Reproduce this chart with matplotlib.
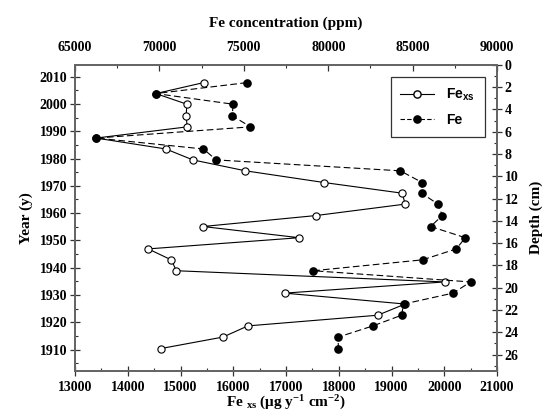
import matplotlib
matplotlib.use("Agg")
import matplotlib.pyplot as plt
from matplotlib.ticker import MultipleLocator
from matplotlib.lines import Line2D

# data (25 sediment layers, top to bottom)
years = [2007.8, 2003.8, 1999.9, 1995.7, 1991.6, 1987.5, 1983.5, 1979.5, 1975.5,
         1971.2, 1967.3, 1963.3, 1959.1, 1955.1, 1951.0, 1946.9, 1942.9, 1938.9,
         1934.8, 1930.7, 1926.7, 1922.6, 1918.7, 1914.6, 1910.4]
fe_xs = [15435, 14531, 15120, 15106, 15125, 13398, 14721, 15233, 16231,
         17725, 19205, 19256, 17560, 15423, 17250, 14385, 14822, 14922,
         20008, 16972, 19256, 18736, 16277, 15803, 14626]
fe_conc = [75178, 69784, 74366, 74307, 75392, 66245, 72606, 73359, 84266,
           85570, 85529, 86501, 86756, 86062, 88119, 87586, 85588, 79109,
           88433, 87390, 84462, 84343, 82648, 80591, 80591]

plt.rcParams['font.family'] = ['Liberation Serif', 'DejaVu Serif']
plt.rcParams['font.weight'] = 'bold'
plt.rcParams['mathtext.default'] = 'regular'

spine_col = "#666666"
tick_fs = 10
lab_fs = 11

fig = plt.figure(figsize=(5.56, 4.16), dpi=100)
ax = fig.add_axes([0.135, 0.109, 0.759, 0.735])

# Fe_xs vs year
ax.plot(fe_xs, years, c="black", lw=0.8, marker="o", ms=5.2,
        mfc="white", mec="black", mew=0.8, zorder=3)
ax.set_xlim(13000, 21000)
ax.set_ylim(1902.3, 2014.3)
ax.xaxis.set_major_locator(MultipleLocator(1000))
ax.xaxis.set_minor_locator(MultipleLocator(500))
ax.yaxis.set_major_locator(MultipleLocator(10))
ax.yaxis.set_minor_locator(MultipleLocator(5))
ax.set_yticks(range(1910, 2011, 10))
ax.set_xlabel("Fe $_{xs}$ ($\\mu$g y$^{-1}$ cm$^{-2}$)", fontsize=lab_fs,
              fontweight="bold", labelpad=0)
ax.set_ylabel("Year (y)", fontsize=lab_fs, fontweight="bold", labelpad=5)

# depth axis on the right
ax_d = ax.twinx()
ax_d.set_ylim(27.45, 0)
ax_d.yaxis.set_major_locator(MultipleLocator(2))
ax_d.yaxis.set_minor_locator(MultipleLocator(1))
ax_d.set_yticks(range(0, 27, 2))
ax_d.set_ylabel("Depth (cm)", fontsize=lab_fs, fontweight="bold", labelpad=8)

# Fe concentration on the top axis
ax_t = ax.twiny()
ax_t.plot(fe_conc, years, c="black", lw=0.8, ls=(0, (6, 3)), marker="o",
          ms=5.2, mfc="black", mec="black", zorder=4)
ax_t.set_xlim(65000, 90000)
ax_t.xaxis.set_major_locator(MultipleLocator(5000))
ax_t.xaxis.set_minor_locator(MultipleLocator(2500))
ax_t.set_xlabel("Fe concentration (ppm)", fontsize=lab_fs, fontweight="bold",
                labelpad=10)

for a in (ax, ax_d, ax_t):
    for s in a.spines.values():
        s.set_color(spine_col)
        s.set_linewidth(1.2)
    a.tick_params(which="major", length=4, width=0.9, color="#333333",
                  labelsize=tick_fs)
    a.tick_params(which="minor", length=2.5, width=0.8, color="#333333",
                  direction="in")

ax.tick_params(axis="x", which="major", direction="inout", length=7, pad=4)
ax.tick_params(axis="y", which="major", direction="inout", length=7, pad=2)
ax_d.tick_params(axis="y", which="major", direction="inout", length=7, pad=2)
ax_t.tick_params(axis="x", which="major", direction="in", length=4, pad=8)

for a in (ax, ax_d, ax_t):
    for lbl in a.get_xticklabels() + a.get_yticklabels():
        lbl.set_fontweight("bold")

handles = [
    Line2D([], [], c="black", lw=0.8, marker="o", ms=5.2, mfc="white", mec="black"),
    Line2D([], [], c="black", lw=0.8, ls=(0, (4, 2)), marker="o", ms=5.2, mfc="black"),
]
leg = ax_t.legend(handles, ["Fe$_{xs}$", "Fe"], loc="upper right",
                  bbox_to_anchor=(0.987, 0.984), frameon=True, fancybox=False,
                  edgecolor="black", handlelength=2.4, borderpad=0.7,
                  labelspacing=0.75, handletextpad=0.9,
                  prop={"family": "Liberation Sans", "weight": "bold", "size": 10})
leg.get_frame().set_linewidth(0.9)

fig.savefig("out.png", dpi=100)
